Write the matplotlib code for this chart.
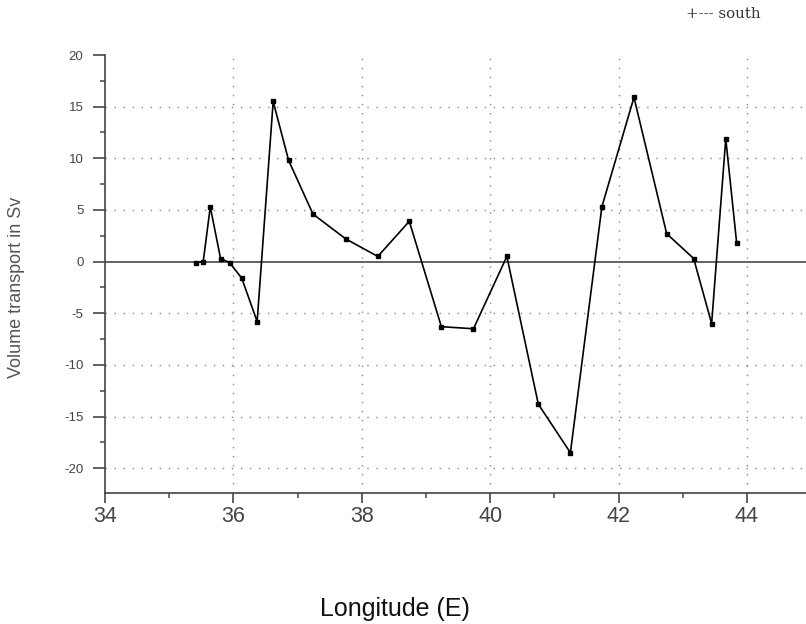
import matplotlib
matplotlib.use("Agg")
import matplotlib.pyplot as plt
from matplotlib.ticker import MultipleLocator, FixedLocator

plt.rcParams["axes.unicode_minus"] = False

longitude = [35.42, 35.53, 35.64, 35.80, 35.94, 36.13, 36.37, 36.62, 36.86, 37.24,
             37.75, 38.25, 38.74, 39.24, 39.74, 40.26, 40.75, 41.25, 41.74, 42.24,
             42.75, 43.17, 43.45, 43.67, 43.84]
transport = [-0.1, 0.0, 5.3, 0.3, -0.1, -1.6, -5.8, 15.5, 9.8, 4.6,
             2.2, 0.5, 3.9, -6.3, -6.5, 0.5, -13.8, -18.5, 5.3, 15.9,
             2.7, 0.3, -6.0, 11.9, 1.8]
x_ticks = [34, 36, 38, 40, 42, 44]
y_ticks = [-20, -15, -10, -5, 0, 5, 10, 15, 20]
series_name = "south"

W, H = 806, 624
fig = plt.figure(figsize=(W / 100, H / 100), dpi=100)
left, right, top, bottom = 105, 806, 55, 493
ax = fig.add_axes([left / W, 1 - bottom / H, (right - left) / W, (bottom - top) / H])

ax.set_xlim(34, 44.92)
ax.set_ylim(-22.4, 20)

for s in ("top", "right"):
    ax.spines[s].set_visible(False)
for s in ("left", "bottom"):
    ax.spines[s].set_color("#444444")
    ax.spines[s].set_linewidth(1.2)

ax.xaxis.set_major_locator(FixedLocator(x_ticks))
ax.yaxis.set_major_locator(FixedLocator(y_ticks))
ax.xaxis.set_minor_locator(MultipleLocator(1))
ax.yaxis.set_minor_locator(MultipleLocator(2.5))
ax.tick_params(axis="both", which="major", direction="out", color="#555555", width=1.3)
ax.tick_params(axis="y", which="major", length=8.5, labelsize=9.5, labelcolor="#444444", pad=7)
ax.tick_params(axis="x", which="major", length=7.2, labelsize=15.5, labelcolor="#444444", pad=2)
ax.tick_params(axis="both", which="minor", direction="out", length=3.6, width=1.2, color="#555555")
for lab in ax.get_xticklabels() + ax.get_yticklabels():
    lab.set_family("Liberation Sans")

ax.grid(True, which="major", linestyle=(0, (1, 5.5)), color="#888888", linewidth=1.0)
for val, gl in zip(y_ticks, ax.get_ygridlines()):
    if val in (0, 20):
        gl.set_visible(False)
for val, gl in zip(x_ticks, ax.get_xgridlines()):
    if val == 34:
        gl.set_visible(False)

ax.axhline(0, color="#555555", linewidth=1.3, zorder=2)

ax.plot(longitude, transport, color="black", linewidth=1.2, marker="s",
        markersize=2.4, zorder=3)

fig.text(395 / W, 1 - 609 / H, "Longitude (E)", ha="center", va="center",
         fontsize=18, family="Liberation Sans", color="#111111")
fig.text(17 / W, 1 - 287 / H, "Volume transport in Sv", ha="center", va="center",
         rotation=90, fontsize=13, family="Liberation Sans", color="#555555")
fig.text(686 / W, 1 - 14 / H, "+--- " + series_name, ha="left", va="center",
         fontsize=10.8, family="DejaVu Serif", color="#333333")

fig.savefig("out.png", dpi=100)
